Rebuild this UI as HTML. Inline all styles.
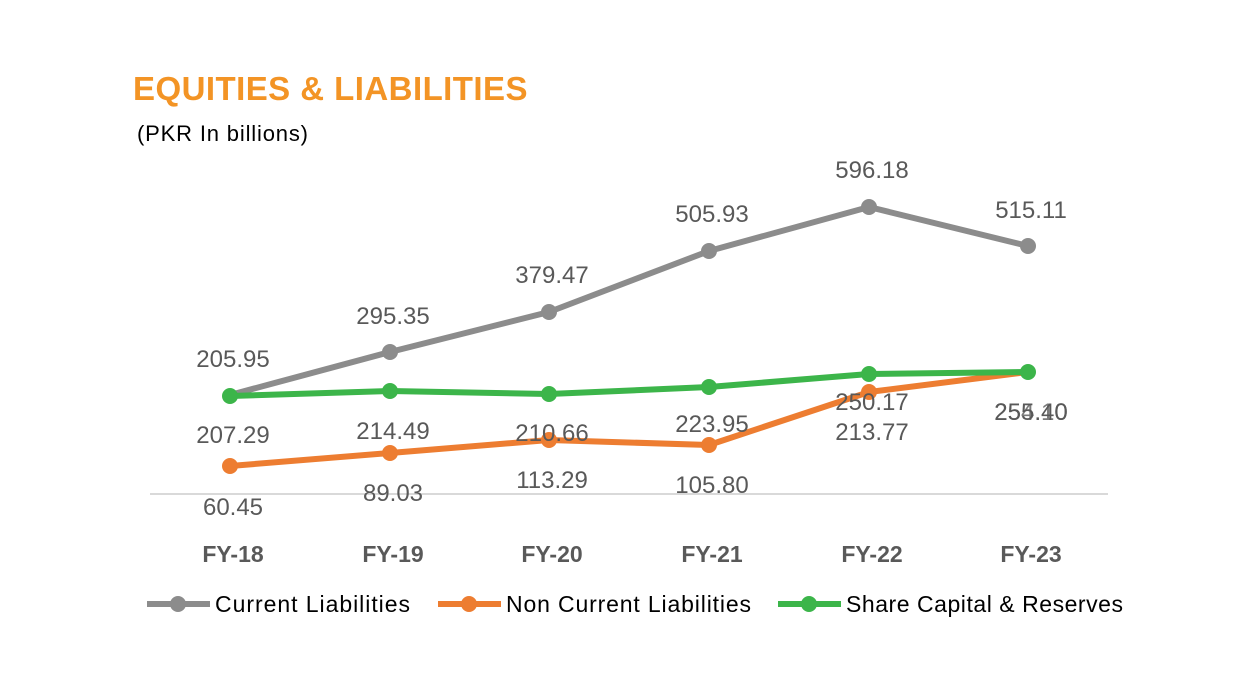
<!DOCTYPE html>
<html><head><style>body{margin:0;background:#fff}</style></head><body>
<svg width="1256" height="691" xmlns="http://www.w3.org/2000/svg" font-family="Liberation Sans, sans-serif">
<rect width="1256" height="691" fill="#fff"/>
<text x="133" y="100" font-size="33" font-weight="bold" fill="#F39425" letter-spacing="0.5" textLength="395">EQUITIES &amp; LIABILITIES</text>
<text x="137" y="141" font-size="22" fill="#000" textLength="171">(PKR In billions)</text>
<line x1="150" y1="494" x2="1108" y2="494" stroke="#d9d9d9" stroke-width="2"/>
<g fill="#595959" font-size="23" font-weight="bold" text-anchor="middle">
<text x="233" y="562">FY-18</text><text x="393" y="562">FY-19</text><text x="552" y="562">FY-20</text><text x="712" y="562">FY-21</text><text x="872" y="562">FY-22</text><text x="1031" y="562">FY-23</text>
</g>
<g fill="none" stroke-width="6" stroke-linejoin="round">
<polyline stroke="#8c8c8c" points="230,395 390,352 549,312 709,251 869,207 1028,246"/>
<polyline stroke="#ED7D31" points="230,466 390,453 549,440 709,445 869,392 1028,372"/>
<polyline stroke="#3CB54A" points="230,396 390,391 549,394 709,387 869,374 1028,372"/>
</g>
<g fill="#8c8c8c"><circle cx="390" cy="352" r="8"/><circle cx="549" cy="312" r="8"/><circle cx="709" cy="251" r="8"/><circle cx="869" cy="207" r="8"/><circle cx="1028" cy="246" r="8"/></g>
<g fill="#ED7D31"><circle cx="230" cy="466" r="8"/><circle cx="390" cy="453" r="8"/><circle cx="549" cy="440" r="8"/><circle cx="709" cy="445" r="8"/><circle cx="869" cy="392" r="8"/></g>
<g fill="#3CB54A"><circle cx="230" cy="396" r="8"/><circle cx="390" cy="391" r="8"/><circle cx="549" cy="394" r="8"/><circle cx="709" cy="387" r="8"/><circle cx="869" cy="374" r="8"/><circle cx="1028" cy="372" r="8"/></g>
<g fill="#595959" font-size="24" text-anchor="middle">
<text x="233" y="367">205.95</text><text x="393" y="324">295.35</text><text x="552" y="283">379.47</text><text x="712" y="222">505.93</text><text x="872" y="178">596.18</text><text x="1031" y="218">515.11</text>
<text x="233" y="443">207.29</text><text x="393" y="439">214.49</text><text x="552" y="441">210.66</text><text x="712" y="432">223.95</text><text x="872" y="410">250.17</text><text x="1031" y="420">255.40</text><text x="1031" y="420" opacity="0.8">254.10</text>
<text x="233" y="515">60.45</text><text x="393" y="501">89.03</text><text x="552" y="488">113.29</text><text x="712" y="493">105.80</text><text x="872" y="440">213.77</text>
</g>
<g font-size="23" fill="#000">
<line x1="147" y1="604" x2="210" y2="604" stroke="#8c8c8c" stroke-width="6"/><circle cx="178" cy="604" r="8" fill="#8c8c8c"/>
<text x="215" y="612" textLength="195">Current Liabilities</text>
<line x1="438" y1="604" x2="501" y2="604" stroke="#ED7D31" stroke-width="6"/><circle cx="469" cy="604" r="8" fill="#ED7D31"/>
<text x="506" y="612" textLength="245">Non Current Liabilities</text>
<line x1="778" y1="604" x2="841" y2="604" stroke="#3CB54A" stroke-width="6"/><circle cx="809" cy="604" r="8" fill="#3CB54A"/>
<text x="846" y="612" textLength="277">Share Capital &amp; Reserves</text>
</g>
</svg>
</body></html>
